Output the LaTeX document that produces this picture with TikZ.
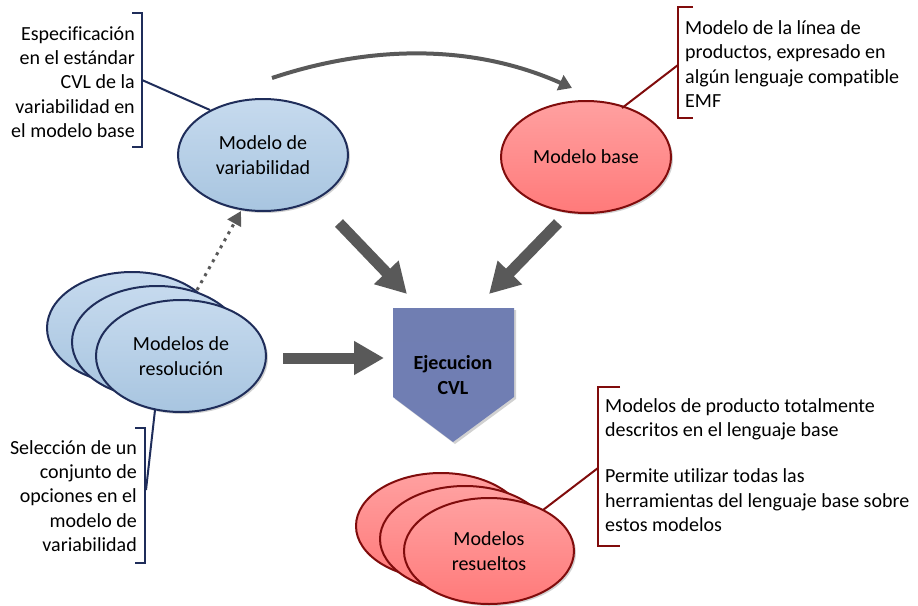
\documentclass[tikz,border=0pt]{standalone}
\usepackage{fontspec}
\setmainfont{Carlito}[Ligatures={NoCommon,NoContextual}]
\usetikzlibrary{shapes.geometric,arrows.meta,shadows}

\definecolor{arrowgray}{RGB}{89,89,89}
\definecolor{navy}{RGB}{31,45,90}
\definecolor{blueTop}{RGB}{198,218,238}
\definecolor{blueBot}{RGB}{168,197,224}
\definecolor{darkred}{RGB}{128,12,12}
\definecolor{redTop}{RGB}{255,160,160}
\definecolor{redBot}{RGB}{255,122,122}
\definecolor{ejTop}{RGB}{112,126,178}
\definecolor{ejMid}{RGB}{88,104,165}
\definecolor{ejBot}{RGB}{112,126,180}

\begin{document}
\begin{tikzpicture}[x=1pt,y=-1pt,
  txt/.style={font=\fontsize{20}{24.4}\selectfont, inner sep=0pt},
  shad/.style={drop shadow={shadow xshift=2pt,shadow yshift=-2pt,opacity=0.18,fill=black}},
  ellbase/.style={ellipse, line width=2pt, minimum width=170pt, minimum height=112pt,
    inner sep=0pt, align=center, font=\fontsize{20}{24.4}\selectfont, shad},
  blueell/.style={ellbase, draw=navy, top color=blueTop, bottom color=blueBot},
  redell/.style={ellbase, draw=darkred, top color=redTop, bottom color=redBot},
  bluebr/.style={draw=navy, line width=2.5pt},
  redbr/.style={draw=darkred, line width=2.5pt},
  bluecall/.style={draw=navy, line width=2pt},
  redcall/.style={draw=darkred, line width=2pt},
  bigarrow/.style={draw=arrowgray, line width=11pt, -{Triangle[length=30pt,width=32pt]}},
  curvearrow/.style={draw=arrowgray, line width=4pt, -{Triangle[length=13pt,width=16pt]}},
  dotarrow/.style={draw=arrowgray, line width=3pt, dash pattern=on 3pt off 5pt, -{Triangle[length=14pt,width=15pt]}},
]
\useasboundingbox (0,0) rectangle (918,605);

% ---- main ellipses
\node[blueell] (var) at (263,155) {Modelo de\\variabilidad};
\node[redell] (base) at (586,157) {Modelo base};

% ---- stacked: Modelos de resolucion
\node[blueell] (resA) at (132,328) {};
\node[blueell] (resB) at (157,342) {};
\node[blueell] (res) at (181,356) {Modelos de\\resolución};

% ---- stacked: Modelos resueltos
\node[redell, minimum height=106pt] (outA) at (441,526) {};
\node[redell, minimum height=106pt] (outB) at (465,539) {};
\node[redell, minimum height=106pt] (out) at (489,551) {Modelos\\resueltos};

% ---- Ejecucion CVL
\path[top color=ejTop, middle color=ejMid, bottom color=ejBot, shad]
  (393,308) -- (514,308) -- (514,397) -- (453,442) -- (393,397) -- cycle;
\node[txt, font=\fontsize{20}{24.4}\selectfont\bfseries, align=center] (ej) at (453,375) {Ejecucion\\CVL};

% ---- arrows
\coordinate (c1) at (272,78);
\coordinate (c2) at (572,88);
\draw[curvearrow] (c1) .. controls (380,42) and (480,47) .. (c2);

\coordinate (d1) at (197,290);
\coordinate (d2) at (241,211);
\draw[dotarrow] (d1) -- (d2);

\coordinate (a1) at (339,223);
\coordinate (a1e) at (407,294);
\draw[bigarrow] (a1) -- (a1e);
\coordinate (a2) at (558,223);
\coordinate (a2e) at (489,294);
\draw[bigarrow] (a2) -- (a2e);
\coordinate (a3) at (283,358);
\coordinate (a3e) at (384,358);
\draw[bigarrow] (a3) -- (a3e);

% ---- callout: top-left
\draw[bluebr] (132,13) -- (142,13) -- (142,147) -- (132,147);
\coordinate (tlm) at (142,80);
\coordinate (tlv) at (210,110);
\draw[bluecall] (tlm) -- (tlv);
\node[txt, anchor=east, align=right] (tltext) at (135,82)
  {Especificación\\en el estándar\\CVL de la\\variabilidad en\\el modelo base};

% ---- callout: top-right
\draw[redbr] (693,7) -- (678,7) -- (678,118) -- (693,118);
\coordinate (trm) at (678,65);
\coordinate (trb) at (622,108);
\draw[redcall] (trm) -- (trb);
\node[txt, anchor=west, align=left] (trtext) at (685,64)
  {Modelo de la línea de\\productos, expresado en\\algún lenguaje compatible\\EMF};

% ---- callout: bottom-left
\draw[bluebr] (135,428) -- (145,428) -- (145,563) -- (135,563);
\coordinate (blm) at (146,490);
\coordinate (blr) at (155,410);
\draw[bluecall] (blm) -- (blr);
\node[txt, anchor=east, align=right] (bltext) at (137,496)
  {Selección de un\\conjunto de\\opciones en el\\modelo de\\variabilidad};

% ---- callout: bottom-right
\draw[redbr] (620,387) -- (598,387) -- (598,546) -- (620,546);
\coordinate (brm) at (598,468);
\coordinate (bro) at (543,510);
\draw[redcall] (brm) -- (bro);
\node[txt, anchor=west, align=left] (brtext) at (605,465)
  {Modelos de producto totalmente\\descritos en el lenguaje base\\[22pt]Permite utilizar todas las\\herramientas del lenguaje base sobre\\estos modelos};
\end{tikzpicture}
\end{document}
